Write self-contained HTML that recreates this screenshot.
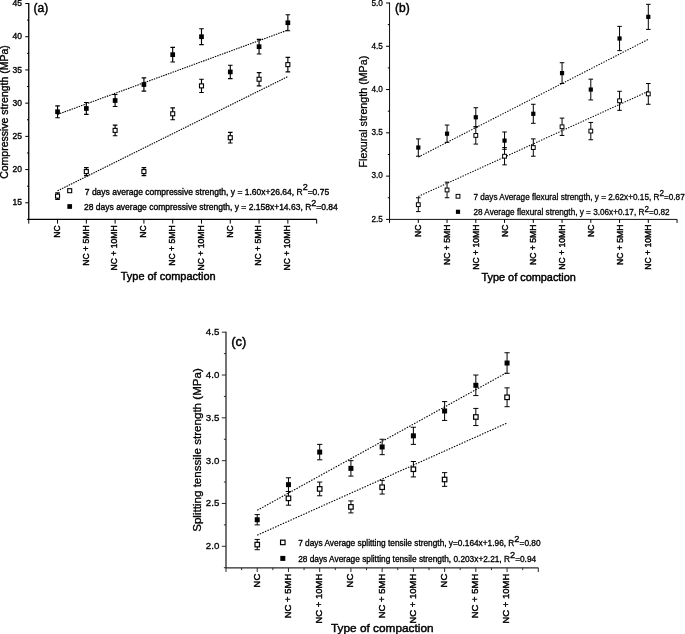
<!DOCTYPE html>
<html><head><meta charset="utf-8"><title>Figure</title>
<style>html,body{margin:0;padding:0;background:#fff}body{width:685px;height:634px;overflow:hidden}svg{display:block}text{stroke:#000;stroke-linejoin:round}.pa text{stroke-width:0.35px}.pb text{stroke-width:0.28px}.pc text{stroke-width:0.32px}.xl text{stroke-width:0.42px !important}text.tt{stroke-width:0.45px !important}</style>
</head><body>
<svg width="685" height="634" viewBox="0 0 685 634" font-family='"Liberation Sans", sans-serif' fill="#000">
<rect width="685" height="634" fill="#fff"/>
<g class="pa">
<g stroke="#000" stroke-width="1.3" fill="none">
<path d="M28.75 3.0V219.4H316.65"/>
<path d="M28.75 219.4h-1.75M28.75 202.79h-3.5M28.75 186.18h-1.75M28.75 169.58h-3.5M28.75 152.97h-1.75M28.75 136.36h-3.5M28.75 119.75h-1.75M28.75 103.15h-3.5M28.75 86.54h-1.75M28.75 69.93h-3.5M28.75 53.32h-1.75M28.75 36.72h-3.5M28.75 20.11h-1.75M28.75 3.5h-3.5M28.75 219.4v4.2M57.54 219.4v4.2M86.33 219.4v4.2M115.12 219.4v4.2M143.91 219.4v4.2M172.7 219.4v4.2M201.49 219.4v4.2M230.28 219.4v4.2M259.07 219.4v4.2M287.86 219.4v4.2M316.65 219.4v4.2" stroke-width="1"/>
</g>
<g font-size="8.5" text-anchor="end">
<text x="22.05" y="205.43">15</text>
<text x="22.05" y="172.22">20</text>
<text x="22.05" y="139">25</text>
<text x="22.05" y="105.79">30</text>
<text x="22.05" y="72.57">35</text>
<text x="22.05" y="39.36">40</text>
<text x="22.05" y="6.14">45</text>
</g>
<g class="xl" font-size="8.58" text-anchor="end">
<text transform="translate(59.83 225.4) rotate(-90)">NC</text>
<text transform="translate(88.62 225.4) rotate(-90)">NC + 5MH</text>
<text transform="translate(117.41 225.4) rotate(-90)">NC + 10MH</text>
<text transform="translate(146.2 225.4) rotate(-90)">NC</text>
<text transform="translate(174.99 225.4) rotate(-90)">NC + 5MH</text>
<text transform="translate(203.78 225.4) rotate(-90)">NC + 10MH</text>
<text transform="translate(232.57 225.4) rotate(-90)">NC</text>
<text transform="translate(261.36 225.4) rotate(-90)">NC + 5MH</text>
<text transform="translate(290.15 225.4) rotate(-90)">NC + 10MH</text>
</g>
<text class="tt" font-size="10.95" text-anchor="middle" x="168.2" y="280.1">Type of compaction</text>
<text font-size="10.5" text-anchor="middle" transform="translate(8.05 112.0) rotate(-90)">Compressive strength (MPa)</text>
<text class="tt" font-size="12" x="33.5" y="11.7">(a)</text>
<g stroke="#000" stroke-width="1.1" stroke-dasharray="1.5 1" fill="none">
<path d="M57.54 114.44L287.86 30.07"/>
<path d="M57.54 190.83L287.86 76.57"/>
</g>
<path d="M57.54 192.83V199.47M55.24 192.83h4.6M55.24 199.47h4.6M86.33 167.58V175.56M84.03 167.58h4.6M84.03 175.56h4.6M115.12 125.07V135.7M112.82 125.07h4.6M112.82 135.7h4.6M143.91 167.58V175.56M141.61 167.58h4.6M141.61 175.56h4.6M172.7 107.8V119.75M170.4 107.8h4.6M170.4 119.75h4.6M201.49 79.23V92.52M199.19 79.23h4.6M199.19 92.52h4.6M230.28 132.38V143M227.98 132.38h4.6M227.98 143h4.6M259.07 72.59V85.87M256.77 72.59h4.6M256.77 85.87h4.6M287.86 57.31V71.92M285.56 57.31h4.6M285.56 71.92h4.6" stroke="#000" stroke-width="1.15" fill="none"/>
<rect x="55.54" y="194.15" width="3.9999999999999996" height="3.9999999999999996" fill="#fff" stroke="#000" stroke-width="1.1"/>
<rect x="84.33" y="169.57" width="3.9999999999999996" height="3.9999999999999996" fill="#fff" stroke="#000" stroke-width="1.1"/>
<rect x="113.12" y="128.38" width="3.9999999999999996" height="3.9999999999999996" fill="#fff" stroke="#000" stroke-width="1.1"/>
<rect x="141.91" y="169.57" width="3.9999999999999996" height="3.9999999999999996" fill="#fff" stroke="#000" stroke-width="1.1"/>
<rect x="170.7" y="111.78" width="3.9999999999999996" height="3.9999999999999996" fill="#fff" stroke="#000" stroke-width="1.1"/>
<rect x="199.49" y="83.87" width="3.9999999999999996" height="3.9999999999999996" fill="#fff" stroke="#000" stroke-width="1.1"/>
<rect x="228.28" y="135.69" width="3.9999999999999996" height="3.9999999999999996" fill="#fff" stroke="#000" stroke-width="1.1"/>
<rect x="257.07" y="77.23" width="3.9999999999999996" height="3.9999999999999996" fill="#fff" stroke="#000" stroke-width="1.1"/>
<rect x="285.86" y="62.62" width="3.9999999999999996" height="3.9999999999999996" fill="#fff" stroke="#000" stroke-width="1.1"/>
<path d="M57.54 105.8V117.76M55.24 105.8h4.6M55.24 117.76h4.6M86.33 102.48V114.44M84.03 102.48h4.6M84.03 114.44h4.6M115.12 94.51V106.47M112.82 94.51h4.6M112.82 106.47h4.6M143.91 77.9V91.19M141.61 77.9h4.6M141.61 91.19h4.6M172.7 47.34V61.96M170.4 47.34h4.6M170.4 61.96h4.6M201.49 28.74V44.69M199.19 28.74h4.6M199.19 44.69h4.6M230.28 65.28V78.57M227.98 65.28h4.6M227.98 78.57h4.6M259.07 39.37V53.99M256.77 39.37h4.6M256.77 53.99h4.6M287.86 14.79V30.74M285.56 14.79h4.6M285.56 30.74h4.6" stroke="#000" stroke-width="1.15" fill="none"/>
<rect x="55.19" y="109.43" width="4.7" height="4.7" fill="#000"/>
<rect x="83.98" y="106.11" width="4.7" height="4.7" fill="#000"/>
<rect x="112.77" y="98.14" width="4.7" height="4.7" fill="#000"/>
<rect x="141.56" y="82.2" width="4.7" height="4.7" fill="#000"/>
<rect x="170.35" y="52.3" width="4.7" height="4.7" fill="#000"/>
<rect x="199.14" y="34.37" width="4.7" height="4.7" fill="#000"/>
<rect x="227.93" y="69.57" width="4.7" height="4.7" fill="#000"/>
<rect x="256.72" y="44.33" width="4.7" height="4.7" fill="#000"/>
<rect x="285.51" y="20.41" width="4.7" height="4.7" fill="#000"/>
<rect x="67.7" y="188.7" width="3.9999999999999996" height="3.9999999999999996" fill="#fff" stroke="#000" stroke-width="1.1"/>
<text font-size="8.5" x="84.8" y="194.5">7 days average compressive strength, y = 1.60x+26.64, R<tspan dy="-4.1" font-size="9.0">2</tspan><tspan dy="4.1">=0.75</tspan></text>
<rect x="67.35000000000001" y="204.15" width="4.7" height="4.7" fill="#000"/>
<text font-size="8.5" x="84" y="210">28 days average compressive strength, y = 2.158x+14.63, R<tspan dy="-4.1" font-size="9.0">2</tspan><tspan dy="4.1">=0.84</tspan></text>
</g>
<g class="pb">
<g stroke="#000" stroke-width="0.95" fill="none">
<path d="M389.55 2.5V219.4H677.05"/>
<path d="M389.55 219.4h-3.5M389.55 197.76h-1.75M389.55 176.12h-3.5M389.55 154.48h-1.75M389.55 132.84h-3.5M389.55 111.2h-1.75M389.55 89.56h-3.5M389.55 67.92h-1.75M389.55 46.28h-3.5M389.55 24.64h-1.75M389.55 3h-3.5M389.55 219.4v3.5M418.3 219.4v3.5M447.05 219.4v3.5M475.8 219.4v3.5M504.55 219.4v3.5M533.3 219.4v3.5M562.05 219.4v3.5M590.8 219.4v3.5M619.55 219.4v3.5M648.3 219.4v3.5M677.05 219.4v3.5" stroke-width="1"/>
</g>
<g font-size="8.2" text-anchor="end">
<text x="382.85" y="221.75">2.5</text>
<text x="382.85" y="178.47">3.0</text>
<text x="382.85" y="135.19">3.5</text>
<text x="382.85" y="91.91">4.0</text>
<text x="382.85" y="48.63">4.5</text>
<text x="382.85" y="6.35">5.0</text>
</g>
<g class="xl" font-size="8.6" text-anchor="end">
<text transform="translate(421.4 224.6) rotate(-90)">NC</text>
<text transform="translate(450.15 224.6) rotate(-90)">NC + 5MH</text>
<text transform="translate(478.9 224.6) rotate(-90)">NC + 10MH</text>
<text transform="translate(507.65 224.6) rotate(-90)">NC</text>
<text transform="translate(536.4 224.6) rotate(-90)">NC + 5MH</text>
<text transform="translate(565.15 224.6) rotate(-90)">NC + 10MH</text>
<text transform="translate(593.9 224.6) rotate(-90)">NC</text>
<text transform="translate(622.65 224.6) rotate(-90)">NC + 5MH</text>
<text transform="translate(651.4 224.6) rotate(-90)">NC + 10MH</text>
</g>
<text class="tt" font-size="10.9" text-anchor="middle" x="528.7" y="281.3">Type of compaction</text>
<text font-size="10.7" text-anchor="middle" transform="translate(367.4 111.6) rotate(-90)">Flexural strength (MPa)</text>
<text class="tt" font-size="12" x="395" y="11.5">(b)</text>
<g stroke="#000" stroke-width="1.05" stroke-dasharray="1.4 1.3" fill="none">
<path d="M418.3 157.08L648.3 39.36"/>
<path d="M418.3 196.46L648.3 91.29"/>
</g>
<path d="M418.3 197.76V211.61M416 197.76h4.6M416 211.61h4.6M447.05 182.18V197.76M444.75 182.18h4.6M444.75 197.76h4.6M475.8 126.78V144.09M473.5 126.78h4.6M473.5 144.09h4.6M504.55 147.56V164.87M502.25 147.56h4.6M502.25 164.87h4.6M533.3 138.9V156.21M531 138.9h4.6M531 156.21h4.6M562.05 118.12V135.44M559.75 118.12h4.6M559.75 135.44h4.6M590.8 122.45V139.76M588.5 122.45h4.6M588.5 139.76h4.6M619.55 91.29V110.33M617.25 91.29h4.6M617.25 110.33h4.6M648.3 83.5V104.28M646 83.5h4.6M646 104.28h4.6" stroke="#000" stroke-width="1.0" fill="none"/>
<rect x="416.4" y="202.78" width="3.8" height="3.8" fill="#fff" stroke="#000" stroke-width="1"/>
<rect x="445.15" y="188.07" width="3.8" height="3.8" fill="#fff" stroke="#000" stroke-width="1"/>
<rect x="473.9" y="133.54" width="3.8" height="3.8" fill="#fff" stroke="#000" stroke-width="1"/>
<rect x="502.65" y="154.31" width="3.8" height="3.8" fill="#fff" stroke="#000" stroke-width="1"/>
<rect x="531.4" y="145.66" width="3.8" height="3.8" fill="#fff" stroke="#000" stroke-width="1"/>
<rect x="560.15" y="124.88" width="3.8" height="3.8" fill="#fff" stroke="#000" stroke-width="1"/>
<rect x="588.9" y="129.21" width="3.8" height="3.8" fill="#fff" stroke="#000" stroke-width="1"/>
<rect x="617.65" y="98.91" width="3.8" height="3.8" fill="#fff" stroke="#000" stroke-width="1"/>
<rect x="646.4" y="91.99" width="3.8" height="3.8" fill="#fff" stroke="#000" stroke-width="1"/>
<path d="M418.3 138.9V156.21M416 138.9h4.6M416 156.21h4.6M447.05 125.05V142.36M444.75 125.05h4.6M444.75 142.36h4.6M475.8 107.74V126.78M473.5 107.74h4.6M473.5 126.78h4.6M504.55 131.97V149.29M502.25 131.97h4.6M502.25 149.29h4.6M533.3 104.28V123.32M531 104.28h4.6M531 123.32h4.6M562.05 62.73V83.5M559.75 62.73h4.6M559.75 83.5h4.6M590.8 79.17V99.95M588.5 79.17h4.6M588.5 99.95h4.6M619.55 26.37V50.61M617.25 26.37h4.6M617.25 50.61h4.6M648.3 4.3V29.4M646 4.3h4.6M646 29.4h4.6" stroke="#000" stroke-width="1.0" fill="none"/>
<rect x="416.2" y="145.46" width="4.2" height="4.2" fill="#000"/>
<rect x="444.95" y="131.61" width="4.2" height="4.2" fill="#000"/>
<rect x="473.7" y="115.16" width="4.2" height="4.2" fill="#000"/>
<rect x="502.45" y="138.53" width="4.2" height="4.2" fill="#000"/>
<rect x="531.2" y="111.7" width="4.2" height="4.2" fill="#000"/>
<rect x="559.95" y="71.01" width="4.2" height="4.2" fill="#000"/>
<rect x="588.7" y="87.46" width="4.2" height="4.2" fill="#000"/>
<rect x="617.45" y="36.39" width="4.2" height="4.2" fill="#000"/>
<rect x="646.2" y="14.75" width="4.2" height="4.2" fill="#000"/>
<rect x="456.1" y="194.4" width="3.8" height="3.8" fill="#fff" stroke="#000" stroke-width="1"/>
<text font-size="8.2" x="473.4" y="199.5">7 days Average flexural strength, y = 2.62x+0.15, R<tspan dy="-3.4" font-size="8.2">2</tspan><tspan dy="3.4">=0.87</tspan></text>
<rect x="455.9" y="209.70000000000002" width="4.2" height="4.2" fill="#000"/>
<text font-size="8.2" x="473.4" y="215">28 Average flexural strength, y = 3.06x+0.17, R<tspan dy="-3.4" font-size="8.2">2</tspan><tspan dy="3.4">=0.82</tspan></text>
</g>
<g class="pc">
<g stroke="#2a2a2a" stroke-width="1.3" fill="none">
<path d="M226.0 331.7V567.8H538.3"/>
<path d="M226.0 567.71h-2.1M226.0 546.3h-4.2M226.0 524.89h-2.1M226.0 503.48h-4.2M226.0 482.07h-2.1M226.0 460.66h-4.2M226.0 439.25h-2.1M226.0 417.84h-4.2M226.0 396.43h-2.1M226.0 375.02h-4.2M226.0 353.61h-2.1M226.0 332.2h-4.2M226 567.8v4.2M241.62 567.8v2.3100000000000005M257.23 567.8v4.2M272.85 567.8v2.3100000000000005M288.46 567.8v4.2M304.07 567.8v2.3100000000000005M319.69 567.8v4.2M335.31 567.8v2.3100000000000005M350.92 567.8v4.2M366.53 567.8v2.3100000000000005M382.15 567.8v4.2M397.76 567.8v2.3100000000000005M413.38 567.8v4.2M429 567.8v2.3100000000000005M444.61 567.8v4.2M460.23 567.8v2.3100000000000005M475.84 567.8v4.2M491.45 567.8v2.3100000000000005M507.07 567.8v4.2M522.68 567.8v2.3100000000000005M538.3 567.8v4.2" stroke-width="1"/>
</g>
<g font-size="9.7" text-anchor="end">
<text x="219.3" y="549.2">2.0</text>
<text x="219.3" y="506.38">2.5</text>
<text x="219.3" y="463.55">3.0</text>
<text x="219.3" y="420.73">3.5</text>
<text x="219.3" y="377.91">4.0</text>
<text x="219.3" y="335.09">4.5</text>
</g>
<g class="xl" font-size="9.5" text-anchor="end">
<text transform="translate(259.65 573.7) rotate(-90)">NC</text>
<text transform="translate(290.88 573.7) rotate(-90)">NC + 5MH</text>
<text transform="translate(322.11 573.7) rotate(-90)">NC + 10MH</text>
<text transform="translate(353.34 573.7) rotate(-90)">NC</text>
<text transform="translate(384.57 573.7) rotate(-90)">NC + 5MH</text>
<text transform="translate(415.8 573.7) rotate(-90)">NC + 10MH</text>
<text transform="translate(447.03 573.7) rotate(-90)">NC</text>
<text transform="translate(478.26 573.7) rotate(-90)">NC + 5MH</text>
<text transform="translate(509.49 573.7) rotate(-90)">NC + 10MH</text>
</g>
<text class="tt" font-size="11.84" text-anchor="middle" x="382.3" y="631.6">Type of compaction</text>
<text font-size="11.6" text-anchor="middle" transform="translate(200.5 450) rotate(-90)">Splitting tenssile strength (MPa)</text>
<text class="tt" font-size="13" x="231.2" y="346.2">(c)</text>
<g stroke="#000" stroke-width="1.1" stroke-dasharray="1.5 1.3" fill="none">
<path d="M257.23 510.33L507.07 372.45"/>
<path d="M257.23 535.17L507.07 422.98"/>
</g>
<path d="M257.23 539.45V549.73M254.63 539.45h5.2M254.63 549.73h5.2M288.46 491.49V505.2M285.86 491.49h5.2M285.86 505.2h5.2M319.69 482.07V495.78M317.09 482.07h5.2M317.09 495.78h5.2M350.92 500.91V512.9M348.32 500.91h5.2M348.32 512.9h5.2M382.15 480.36V494.06M379.55 480.36h5.2M379.55 494.06h5.2M413.38 461.52V476.93M410.78 461.52h5.2M410.78 476.93h5.2M444.61 472.65V486.35M442.01 472.65h5.2M442.01 486.35h5.2M475.84 408.42V425.55M473.24 408.42h5.2M473.24 425.55h5.2M507.07 387.87V406.71M504.47 387.87h5.2M504.47 406.71h5.2" stroke="#000" stroke-width="1.0" fill="none"/>
<rect x="254.98" y="542.34" width="4.5" height="4.5" fill="#fff" stroke="#000" stroke-width="1.2"/>
<rect x="286.21" y="496.09" width="4.5" height="4.5" fill="#fff" stroke="#000" stroke-width="1.2"/>
<rect x="317.44" y="486.67" width="4.5" height="4.5" fill="#fff" stroke="#000" stroke-width="1.2"/>
<rect x="348.67" y="504.66" width="4.5" height="4.5" fill="#fff" stroke="#000" stroke-width="1.2"/>
<rect x="379.9" y="484.96" width="4.5" height="4.5" fill="#fff" stroke="#000" stroke-width="1.2"/>
<rect x="411.13" y="466.98" width="4.5" height="4.5" fill="#fff" stroke="#000" stroke-width="1.2"/>
<rect x="442.36" y="477.25" width="4.5" height="4.5" fill="#fff" stroke="#000" stroke-width="1.2"/>
<rect x="473.59" y="414.74" width="4.5" height="4.5" fill="#fff" stroke="#000" stroke-width="1.2"/>
<rect x="504.82" y="395.04" width="4.5" height="4.5" fill="#fff" stroke="#000" stroke-width="1.2"/>
<path d="M257.23 514.62V524.89M254.63 514.62h5.2M254.63 524.89h5.2M288.46 477.79V491.49M285.86 477.79h5.2M285.86 491.49h5.2M319.69 444.39V459.81M317.09 444.39h5.2M317.09 459.81h5.2M350.92 460.66V476.08M348.32 460.66h5.2M348.32 476.08h5.2M382.15 439.25V454.67M379.55 439.25h5.2M379.55 454.67h5.2M413.38 427.26V444.39M410.78 427.26h5.2M410.78 444.39h5.2M444.61 401.57V420.41M442.01 401.57h5.2M442.01 420.41h5.2M475.84 375.02V395.57M473.24 375.02h5.2M473.24 395.57h5.2M507.07 352.75V373.31M504.47 352.75h5.2M504.47 373.31h5.2" stroke="#000" stroke-width="1.0" fill="none"/>
<rect x="254.73" y="517.26" width="5" height="5" fill="#000"/>
<rect x="285.96" y="482.14" width="5" height="5" fill="#000"/>
<rect x="317.19" y="449.6" width="5" height="5" fill="#000"/>
<rect x="348.42" y="465.87" width="5" height="5" fill="#000"/>
<rect x="379.65" y="444.46" width="5" height="5" fill="#000"/>
<rect x="410.88" y="433.33" width="5" height="5" fill="#000"/>
<rect x="442.11" y="408.49" width="5" height="5" fill="#000"/>
<rect x="473.34" y="382.8" width="5" height="5" fill="#000"/>
<rect x="504.57" y="360.53" width="5" height="5" fill="#000"/>
<rect x="280.55" y="540.15" width="4.5" height="4.5" fill="#fff" stroke="#000" stroke-width="1.2"/>
<text font-size="8.3" x="298.2" y="546.2">7 days Average splitting tensile strength, y=0.164x+1.96, R<tspan dy="-4.1" font-size="9.3">2</tspan><tspan dy="4.1">=0.80</tspan></text>
<rect x="280.3" y="555.9" width="5" height="5" fill="#000"/>
<text font-size="8.3" x="298.2" y="562.2">28 days Average splitting tensile strength, 0.203x+2.21, R<tspan dy="-4.1" font-size="9.3">2</tspan><tspan dy="4.1">=0.94</tspan></text>
</g>
</svg>
</body></html>
